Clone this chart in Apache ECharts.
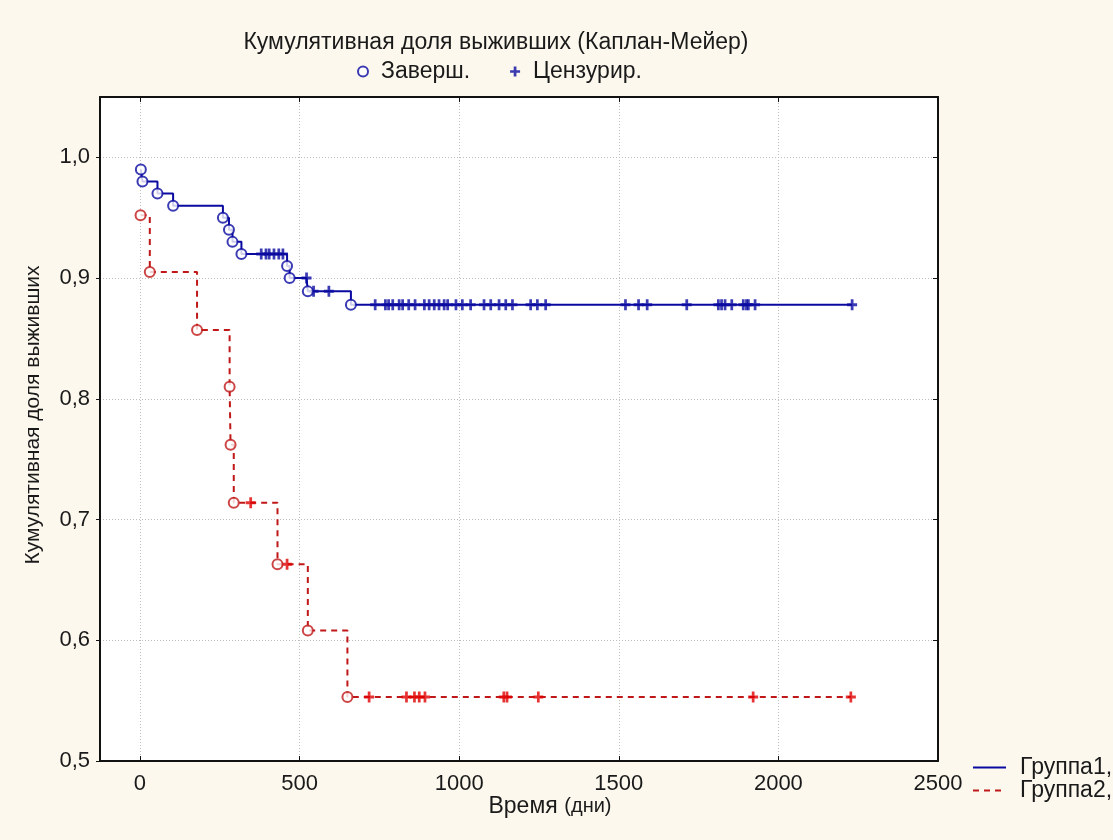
<!DOCTYPE html>
<html>
<head>
<meta charset="utf-8">
<script src="https://cdn.jsdelivr.net/npm/echarts@6/dist/echarts.min.js"></script>
<style>
  html, body { margin: 0; padding: 0; background: #fff; }
  #chart { width: 1113px; height: 840px; }
</style>
</head>
<body>
<div id="chart"></div>
<script>
  // Группа1: завершённые случаи (день, доля выживших)
  var g1EventDays = [3, 8, 55, 104, 260, 279, 290, 318, 461, 469, 526, 661];
  var g1EventSurv = [0.990, 0.980, 0.970, 0.960, 0.950, 0.940, 0.930, 0.920, 0.910, 0.900, 0.889, 0.878];
  // Группа1: цензурированные (день)
  var g1CensorDays = [380, 395, 405, 420, 435, 448, 522, 544, 592,
    737, 769, 779, 792, 812, 823, 842, 862, 891, 906, 922, 937, 953, 964, 990,
    1010, 1036, 1078, 1099, 1125, 1146, 1167, 1224, 1245, 1271,
    1521, 1562, 1589, 1713, 1812, 1822, 1833, 1854, 1890, 1900, 1906, 1927, 2231];

  // Группа2
  var g2EventDays = [2, 31, 179, 281, 284, 294, 431, 526, 650];
  var g2EventSurv = [0.952, 0.905, 0.857, 0.810, 0.762, 0.714, 0.663, 0.608, 0.553];
  var g2CensorDays = [347, 461, 718, 835, 860, 875, 893, 1140, 1150, 1248, 1921, 2227];

  var xTicks = [0, 500, 1000, 1500, 2000, 2500];
  var yTicks = [0.5, 0.6, 0.7, 0.8, 0.9, 1.0];

  var blue = '#0A0AA0';
  var red = '#C01818';
  var redPlus = '#E00000';
  var plusPath = 'path://M4,0H7V4H11V7H7V11H4V7H0V4H4Z';

  function survAt(days, surv, t) {
    var s = 1;
    for (var i = 0; i < days.length; i++) {
      if (days[i] <= t) s = surv[i];
    }
    return s;
  }
  function stepData(eDays, eSurv, cDays) {
    var pts = [];
    eDays.forEach(function (d, i) { pts.push([d, eSurv[i]]); });
    cDays.forEach(function (d) { pts.push([d, survAt(eDays, eSurv, d)]); });
    pts.sort(function (a, b) { return a[0] - b[0]; });
    return pts;
  }
  function pairs(days, surv) {
    return days.map(function (d, i) { return [d, surv[i]]; });
  }
  function censorPts(cDays, eDays, eSurv) {
    return cDays.map(function (d) { return [d, survAt(eDays, eSurv, d)]; });
  }

  var font = 'Liberation Sans, Arial, sans-serif';
  var myChart = echarts.init(document.getElementById('chart'));

  var option = {
    backgroundColor: '#FCF8EE',
    animation: false,
    title: {
      text: 'Кумулятивная доля выживших (Каплан-Мейер)',
      left: 491, top: 26, textAlign: 'center',
      textStyle: { fontFamily: font, fontSize: 23, fontWeight: 'normal', color: '#1a1a1a' }
    },
    legend: [
      {
        data: ['Заверш.', 'Цензурир.'],
        left: 357, top: 60, itemGap: 40, itemWidth: 26, itemHeight: 10,
        padding: 0, selectedMode: false,
        textStyle: { fontFamily: font, fontSize: 23, color: '#1a1a1a' }
      },
      {
        data: ['Группа1,', 'Группа2,'],
        orient: 'vertical', left: 972, top: 756, itemGap: 0, itemWidth: 33, itemHeight: 23,
        padding: 0, selectedMode: false,
        itemStyle: { opacity: 0 },
        textStyle: { fontFamily: font, fontSize: 23, color: '#1a1a1a', padding: [0, 0, 0, 9] }
      }
    ],
    grid: {
      left: 100, right: 175, top: 97, bottom: 79,
      show: true, backgroundColor: '#ffffff', borderWidth: 0
    },
    xAxis: [
      {
        type: 'value', min: -125, max: 2500,
        name: '{a|Время}  {b|(дни)}', nameLocation: 'middle', nameGap: 34,
        nameMoveOverlap: false,
        nameTextStyle: {
          padding: [0, 0, 0, 62],
          rich: {
            a: { fontFamily: font, fontSize: 23, color: '#1a1a1a' },
            b: { fontFamily: font, fontSize: 20, color: '#1a1a1a' }
          }
        },
        axisLine: { onZero: false, lineStyle: { color: '#111', width: 2 } },
        axisTick: { inside: true, length: 5, customValues: xTicks, lineStyle: { color: '#111' } },
        axisLabel: {
          customValues: xTicks, margin: 12, fontFamily: font, fontSize: 22, color: '#1a1a1a',
          formatter: function (v) { return String(v); }
        },
        splitLine: { show: true, lineStyle: { color: '#bdbdbd', type: [1, 2], width: 1 } }
      },
      {
        type: 'value', min: -125, max: 2500, position: 'top',
        axisLine: { onZero: false, lineStyle: { color: '#111', width: 2 } },
        axisTick: { inside: true, length: 5, customValues: xTicks, lineStyle: { color: '#111' } },
        axisLabel: { show: false },
        splitLine: { show: false }
      }
    ],
    yAxis: [
      {
        type: 'value', min: 0.5, max: 1.05,
        name: 'Кумулятивная доля выживших', nameLocation: 'middle', nameGap: 56,
        nameTextStyle: { fontFamily: font, fontSize: 21, color: '#1a1a1a', padding: [0, 0, 0, 28] },
        axisLine: { onZero: false, lineStyle: { color: '#111', width: 2 } },
        axisTick: { inside: false, length: 4, customValues: yTicks, lineStyle: { color: '#111' } },
        axisLabel: {
          customValues: yTicks, margin: 10, fontFamily: font, fontSize: 22, color: '#1a1a1a',
          formatter: function (v) { return v.toFixed(1).replace('.', ','); }
        },
        splitLine: { show: true, lineStyle: { color: '#bdbdbd', type: [1, 2], width: 1 } }
      },
      {
        type: 'value', min: 0.5, max: 1.05, position: 'right',
        axisLine: { onZero: false, lineStyle: { color: '#111', width: 2 } },
        axisTick: { inside: true, length: 5, customValues: yTicks, lineStyle: { color: '#111' } },
        axisLabel: { show: false },
        splitLine: { show: false }
      }
    ],
    series: [
      {
        name: 'Группа1,', type: 'line', step: 'end', symbol: 'none',
        data: stepData(g1EventDays, g1EventSurv, g1CensorDays),
        lineStyle: { color: blue, width: 2 }, itemStyle: { color: blue }, z: 2
      },
      {
        name: 'Группа2,', type: 'line', step: 'end', symbol: 'none',
        data: stepData(g2EventDays, g2EventSurv, g2CensorDays),
        lineStyle: { color: red, width: 2, type: [6, 5] }, itemStyle: { color: red }, z: 2
      },
      {
        name: 'Заверш.', type: 'scatter', symbol: 'emptyCircle', symbolSize: 10,
        data: pairs(g1EventDays, g1EventSurv),
        itemStyle: { color: blue, borderWidth: 1.6 }, z: 4
      },
      {
        name: 'Цензурир.', type: 'scatter', symbol: plusPath, symbolSize: [10, 11],
        data: censorPts(g1CensorDays, g1EventDays, g1EventSurv),
        itemStyle: { color: blue }, z: 3
      },
      {
        name: 'Заверш. 2', type: 'scatter', symbol: 'emptyCircle', symbolSize: 10,
        data: pairs(g2EventDays, g2EventSurv),
        itemStyle: { color: red, borderWidth: 1.6 }, z: 4
      },
      {
        name: 'Цензурир. 2', type: 'scatter', symbol: plusPath, symbolSize: [10, 11],
        data: censorPts(g2CensorDays, g2EventDays, g2EventSurv),
        itemStyle: { color: redPlus }, z: 3
      }
    ]
  };
  myChart.setOption(option);
</script>
</body>
</html>
